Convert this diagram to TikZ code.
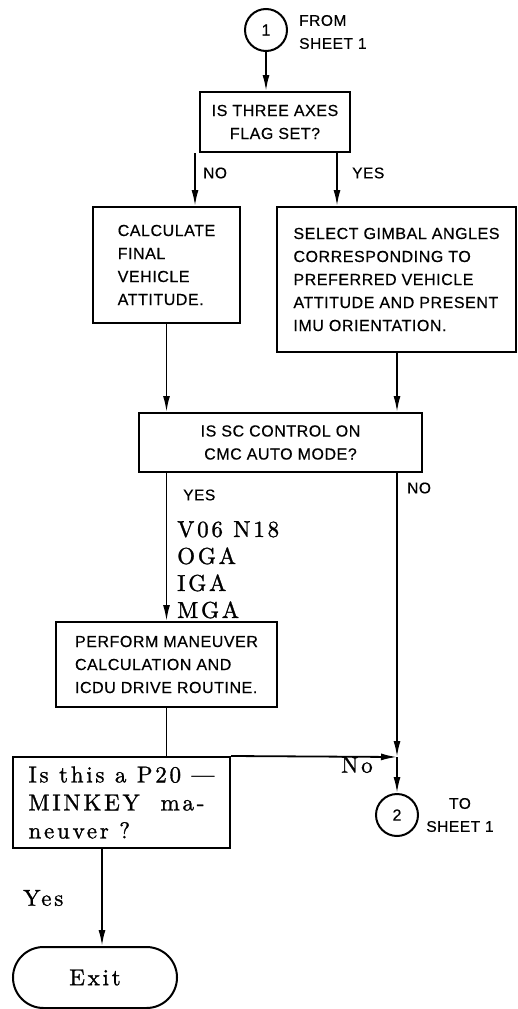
\documentclass[tikz,border=0pt]{standalone}
\usepackage{fontspec}
\setmainfont{Liberation Sans}
\newfontfamily\sansl{Liberation Sans}[LetterSpace=3.5,FakeBold=0.5]
\newfontfamily\serl{lmroman10-regular.otf}[LetterSpace=12,FakeBold=1.2]
\usetikzlibrary{arrows.meta,calc,shapes.misc}
\tikzset{
 box/.style={draw, line width=2pt, rectangle, inner sep=0pt, font=\sansl\fontsize{16}{23}\selectfont},
 sbox/.style={draw, line width=2pt, rectangle, inner sep=0pt, font=\serl\fontsize{23}{28}\selectfont},
 circ/.style={draw, circle, line width=2pt, minimum size=42pt, inner sep=0pt, font=\sansl\fontsize{16}{17}\selectfont},
 term/.style={draw, rounded rectangle, line width=2pt, minimum width=164pt, minimum height=61pt, inner sep=0pt, font=\serl\fontsize{23}{27}\selectfont},
 arr/.style={line width=1.8pt, -{Latex[length=16pt,width=7pt]}},
 ln/.style={line width=1.8pt},
 lbl/.style={font=\sansl\fontsize{15.5}{23}\selectfont, inner sep=0pt},
 slbl/.style={font=\serl\fontsize{23}{27}\selectfont, inner sep=0pt},
}
\begin{document}
\begin{tikzpicture}[x=1pt,y=-1pt]
\useasboundingbox (0,0) rectangle (518,1009);
% nodes
\node[circ] (c1) at (266,30) {1};
\node[lbl, anchor=west, align=left] (t1) at (299,32) {FROM\\SHEET 1};
\node[box, minimum width=150pt, minimum height=60pt, align=center] (b1) at (275,122) {IS THREE AXES\\FLAG SET?};
\node[box, minimum width=147pt, minimum height=116pt, align=left] (b2) at (166.5,265) {CALCULATE\\FINAL\\VEHICLE\\ATTITUDE.};
\node[box, minimum width=239pt, minimum height=145pt, align=left] (b3) at (396.5,279.5) {SELECT GIMBAL ANGLES\\CORRESPONDING TO\\PREFERRED VEHICLE\\ATTITUDE AND PRESENT\\IMU ORIENTATION.};
\node[box, minimum width=283pt, minimum height=59pt, align=center] (b4) at (280.5,442.5) {IS SC CONTROL ON\\CMC AUTO MODE?};
\node[box, minimum width=221pt, minimum height=85pt, align=left] (b5) at (166.5,664.5) {PERFORM MANEUVER\\CALCULATION AND\\ICDU DRIVE ROUTINE.};
\node[sbox, minimum width=217pt, minimum height=91pt, align=left] (d1) at (121.5,802.5) {Is this a P20 —\\MINKEY\ \ ma-\\neuver ?};
\node[circ] (c2) at (397,815) {2};
\node[lbl, align=center] (t2) at (460,815) {TO\\SHEET 1};
\node[term] (ex) at (95,977.5) {Exit};
% labels
\node[lbl, anchor=west] (lno1) at (203,173) {NO};
\node[lbl, anchor=west] (lyes1) at (352,173) {YES};
\node[lbl, anchor=west] (lyes2) at (183,495) {YES};
\node[lbl, anchor=west] (lno2) at (407,488) {NO};
\node[slbl, anchor=north west, align=left] (vn) at (177,521) {V06 N18\\OGA\\IGA\\MGA};
\node[slbl, anchor=west] (lno3) at (341,765) {No};
\node[slbl, anchor=west] (lyes3) at (23,898) {Yes};
% helper coordinates
\coordinate (xno) at (195,0);
\coordinate (xyes) at (337,0);
\coordinate (xr) at (397,0);
\coordinate (jn) at (397,757);
\coordinate (xex) at (102,0);
% connectors
\draw[arr] (c1.south) -- (c1.south |- b1.north);
\draw[arr] (b1.south -| xno) -- (b2.north -| xno);
\draw[arr] (b1.south -| xyes) -- (b3.north -| xyes);
\draw[arr] (b2.south) -- (b2.south |- b4.north);
\draw[arr] (b3.south -| xr) -- (b4.north -| xr);
\draw[arr] (b4.south -| b5.north) -- (b5.north);
\draw[arr] (b4.south -| jn) -- (jn);
\draw[arr] (jn) -- (c2.north);
\draw[ln] (b5.south) -- (b5.south |- d1.north);
\draw[arr] (d1.north east) -- (jn);
\draw[arr] (d1.south -| xex) -- (ex.north -| xex);
\end{tikzpicture}
\end{document}
